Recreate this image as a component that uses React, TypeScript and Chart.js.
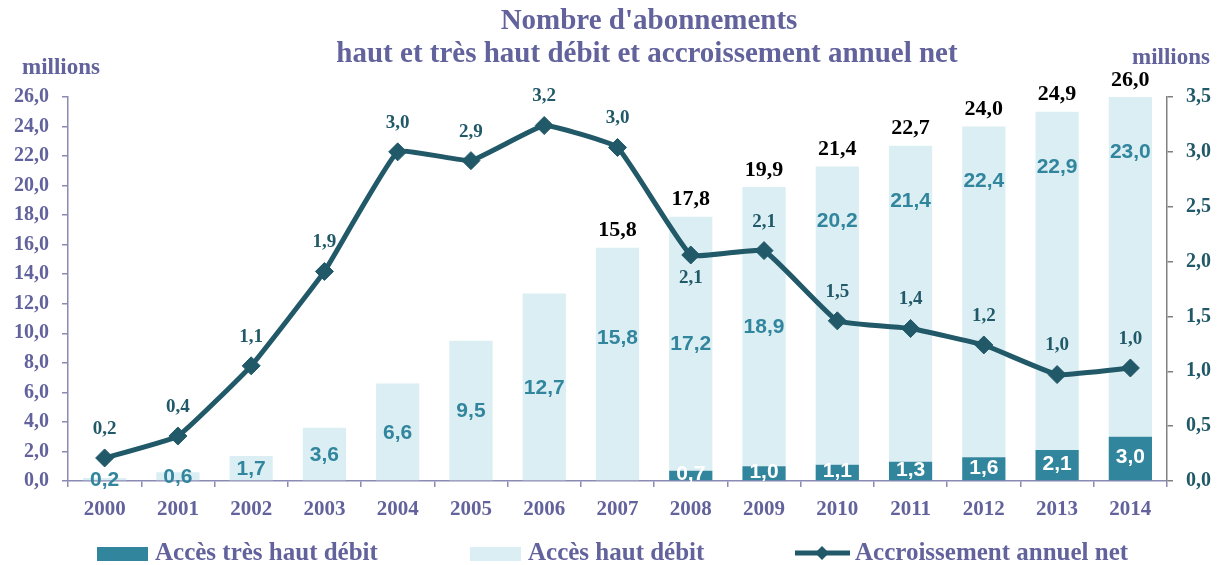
import React, { useEffect, useRef } from 'react';
import { Chart, registerables } from 'chart.js';

Chart.register(...registerables);

const years = ['2000', '2001', '2002', '2003', '2004', '2005', '2006', '2007', '2008', '2009', '2010', '2011', '2012', '2013', '2014'];
const veryHighSpeed = [null, null, null, null, null, null, null, null, 0.7, 1.0, 1.1, 1.3, 1.6, 2.1, 3.0];
const highSpeed = [0.2, 0.6, 1.7, 3.6, 6.6, 9.5, 12.7, 15.8, 17.2, 18.9, 20.2, 21.4, 22.4, 22.9, 23.0];
const totals = [null, null, null, null, null, null, null, 15.8, 17.8, 19.9, 21.4, 22.7, 24.0, 24.9, 26.0];
const netGrowth = [0.21, 0.41, 1.05, 1.91, 3.0, 2.92, 3.24, 3.04, 2.06, 2.1, 1.46, 1.39, 1.24, 0.97, 1.03];

const titleLines = ["Nombre d'abonnements", 'haut et très haut débit et accroissement annuel net'];
const seriesNames = ['Accès très haut débit', 'Accès haut débit', 'Accroissement annuel net'];
// label placement styles (not data)
const highLabelAnchor = ['c', 'c', 'c', 'c', 'c', 'c', 'c', 'cu', 'c', 'c', 't', 't', 't', 't', 't'];
const lineLabelSide = ['a', 'a', 'a', 'a', 'a', 'a', 'a', 'a', 'b', 'a', 'a', 'a', 'a', 'a', 'a'];

const PURPLE = '#62629c';
const TEAL = '#31859c';
const LIGHT = '#daeef3';
const DARK = '#215968';
const SERIF = '"Liberation Serif", serif';
const SANS = '"Liberation Sans", Arial, sans-serif';

const fmt = (v: number) => v.toFixed(1).replace('.', ',');

const labelPlugin = {
  id: 'customLabels',
  afterDatasetDraw(chart: any, args: any) {
    const ctx = chart.ctx;
    const idx = args.index;
    const meta = args.meta;
    if (idx === 0) return;
    ctx.save();
    ctx.textAlign = 'center';
    ctx.textBaseline = 'middle';
    ctx.font = `bold 21px ${SANS}`;
    const arr = idx === 1 ? veryHighSpeed : highSpeed;
    meta.data.forEach((el: any, i: number) => {
      const v = arr[i];
      if (v == null) return;
      const top = el.y;
      const base = el.base;
      let y = (top + base) / 2;
      if (idx === 1) {
        ctx.fillStyle = '#ffffff';
        y -= 2;
      } else {
        ctx.fillStyle = TEAL;
        const a = highLabelAnchor[i];
        if (a === 'cu') y -= 27;
        if (a === 't') y = top + 54;
      }
      ctx.fillText(fmt(v), el.x, y + 1);
    });
    ctx.restore();
  },
  afterDatasetsDraw(chart: any) {
    const ctx = chart.ctx;
    ctx.save();
    ctx.textAlign = 'center';
    ctx.textBaseline = 'middle';
    // totals
    const lightMeta = chart.getDatasetMeta(2);
    ctx.font = `bold 22px ${SERIF}`;
    ctx.fillStyle = '#000000';
    lightMeta.data.forEach((el: any, i: number) => {
      const t = totals[i];
      if (t == null) return;
      ctx.fillText(fmt(t), el.x, el.y - 17);
    });
    // line labels
    const lineMeta = chart.getDatasetMeta(0);
    ctx.font = `bold 19px ${SERIF}`;
    ctx.fillStyle = DARK;
    lineMeta.data.forEach((el: any, i: number) => {
      const side = lineLabelSide[i];
      const y = side === 'b' ? el.y + 23 : el.y - 29;
      ctx.fillText(fmt(netGrowth[i]), el.x, y);
    });
    ctx.restore();
  },
  afterDraw(chart: any) {
    const ctx = chart.ctx;
    ctx.save();
    // title
    ctx.fillStyle = PURPLE;
    ctx.textAlign = 'center';
    ctx.textBaseline = 'middle';
    ctx.font = `bold 29px ${SERIF}`;
    ctx.fillText(titleLines[0], 649, 22);
    ctx.fillText(titleLines[1], 647, 55);
    // unit labels
    ctx.font = `bold 23px ${SERIF}`;
    ctx.textAlign = 'left';
    ctx.fillText('millions', 22, 68);
    ctx.textAlign = 'right';
    ctx.fillText('millions', 1210, 58);
    // legend
    ctx.textAlign = 'left';
    ctx.font = `bold 25px ${SERIF}`;
    ctx.fillStyle = TEAL;
    ctx.fillRect(97, 547, 51, 14);
    ctx.fillStyle = PURPLE;
    ctx.fillText(seriesNames[0], 155, 554);
    ctx.fillStyle = LIGHT;
    ctx.fillRect(470, 547, 51, 14);
    ctx.fillStyle = PURPLE;
    ctx.fillText(seriesNames[1], 528, 554);
    ctx.strokeStyle = DARK;
    ctx.lineWidth = 5;
    ctx.beginPath();
    ctx.moveTo(795, 553);
    ctx.lineTo(850, 553);
    ctx.stroke();
    ctx.fillStyle = DARK;
    ctx.beginPath();
    ctx.moveTo(822, 546);
    ctx.lineTo(829, 553);
    ctx.lineTo(822, 560);
    ctx.lineTo(815, 553);
    ctx.closePath();
    ctx.fill();
    ctx.fillStyle = PURPLE;
    ctx.fillText(seriesNames[2], 855, 554);
    ctx.restore();
  },
};

export default function App() {
  const ref = useRef<HTMLCanvasElement>(null);
  useEffect(() => {
    document.body.style.margin = '0';
    const canvas = ref.current;
    if (!canvas) return;
    const chart = new Chart(canvas, {
      type: 'bar',
      data: {
        labels: years,
        datasets: [
          {
            type: 'line',
            label: seriesNames[2],
            data: netGrowth,
            yAxisID: 'y1',
            borderColor: DARK,
            backgroundColor: DARK,
            borderWidth: 5,
            pointStyle: 'rectRot',
            pointRadius: 9,
            pointBorderWidth: 1,
            pointBackgroundColor: DARK,
            pointBorderColor: DARK,
            tension: 0.1,
            order: 0,
          } as any,
          {
            type: 'bar',
            label: seriesNames[0],
            data: veryHighSpeed,
            backgroundColor: TEAL,
            yAxisID: 'y',
            stack: 's',
            barPercentage: 0.59,
            categoryPercentage: 1,
            order: 1,
          },
          {
            type: 'bar',
            label: seriesNames[1],
            data: highSpeed,
            backgroundColor: LIGHT,
            yAxisID: 'y',
            stack: 's',
            barPercentage: 0.59,
            categoryPercentage: 1,
            order: 2,
          },
        ],
      },
      options: {
        animation: false,
        responsive: false,
        maintainAspectRatio: false,
        layout: { padding: { top: 97, left: 0, right: 0, bottom: 0 } },
        plugins: {
          legend: { display: false },
          title: { display: false },
          tooltip: { enabled: false },
        },
        scales: {
          x: {
            stacked: true,
            afterFit: (s: any) => { s.height = 84; },
            grid: { display: true, drawOnChartArea: false, offset: true, tickLength: 6, color: '#8a8ab4', lineWidth: 1.5 },
            border: { display: true, color: '#8a8ab4', width: 1.5 },
            ticks: { color: PURPLE, font: { family: SERIF, size: 21, weight: 'bold' }, padding: 10, maxRotation: 0 },
          },
          y: {
            stacked: true,
            min: 0,
            max: 26,
            position: 'left',
            afterFit: (s: any) => { s.width = 68; },
            grid: { display: true, drawOnChartArea: false, tickLength: 6, color: '#8a8ab4', lineWidth: 1.5 },
            border: { display: true, color: '#8a8ab4', width: 1.5 },
            ticks: {
              stepSize: 2,
              color: PURPLE,
              padding: 13,
              font: { family: SERIF, size: 20, weight: 'bold' },
              callback: (v: any) => fmt(Number(v)),
            },
          },
          y1: {
            min: 0,
            max: 3.5,
            position: 'right',
            afterFit: (s: any) => { s.width = 50; },
            grid: { display: true, drawOnChartArea: false, tickLength: 6, color: '#808080', lineWidth: 1.5 },
            border: { display: true, color: '#808080', width: 1.5 },
            ticks: {
              stepSize: 0.5,
              color: DARK,
              padding: 13,
              font: { family: SERIF, size: 20, weight: 'bold' },
              callback: (v: any) => fmt(Number(v)),
            },
          },
        },
      },
      plugins: [labelPlugin],
    });
    return () => chart.destroy();
  }, []);
  return (
    <div style={{ width: 1217, height: 565 }}>
      <canvas ref={ref} width={1217} height={565} style={{ display: 'block' }} />
    </div>
  );
}
